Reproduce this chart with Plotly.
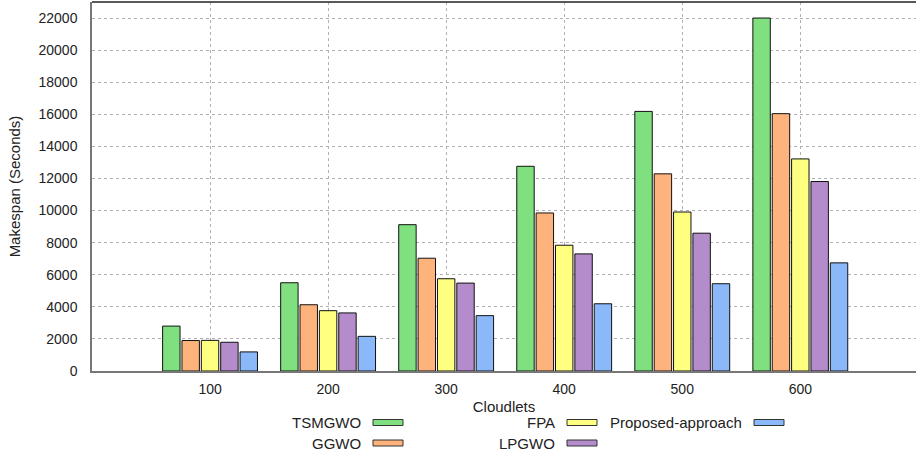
import plotly.graph_objects as go

categories = ["100", "200", "300", "400", "500", "600"]
series_names = ["TSMGWO", "GGWO", "FPA", "LPGWO", "Proposed-approach"]
tsmgwo = [2800, 5500, 9120, 12760, 16180, 22000]
ggwo = [1900, 4130, 7030, 9850, 12290, 16040]
fpa = [1910, 3760, 5750, 7840, 9910, 13220]
lpgwo = [1790, 3620, 5480, 7300, 8590, 11810]
proposed = [1190, 2160, 3450, 4190, 5440, 6740]
y_ticks = list(range(0, 22001, 2000))
y_tick_labels = [str(v) for v in y_ticks]

values = [tsmgwo, ggwo, fpa, lpgwo, proposed]
colors = ["#80E080", "#FFB37C", "#FFFF80", "#B48CCB", "#8AB8F8"]

W, H = 916, 457
L, R, T, B = 92, 0, 2, 86
PW, PH = W - L - R, H - T - B

fig = go.Figure()
for name, vals, col in zip(series_names, values, colors):
    fig.add_trace(go.Bar(
        x=categories, y=vals, name=name,
        marker=dict(color=col, line=dict(color="#111111", width=1)),
        showlegend=False,
    ))

font = dict(family="Liberation Sans, Arial, sans-serif", size=14, color="#222222")
legend_font = dict(family="Liberation Sans, Arial, sans-serif", size=15, color="#222222")

def px_to_paper(px, py):
    return (px - L) / PW, (H - B - py) / PH

# Custom legend: text right-aligned, swatch after the text
legend_items = [
    (0, 363, 422.5), (1, 363, 443), (2, 557, 422.5), (3, 557, 443), (4, 744, 422.5)
]
annotations = []
shapes = []
for idx, tx, ty in legend_items:
    xp, yp = px_to_paper(tx, ty)
    annotations.append(dict(
        x=xp, y=yp, xref="paper", yref="paper", text=series_names[idx],
        showarrow=False, xanchor="right", yanchor="middle", font=legend_font,
    ))
    x0, y0 = px_to_paper(tx + 10, ty - 3)
    x1, y1 = px_to_paper(tx + 40, ty + 3)
    shapes.append(dict(
        type="rect", xref="paper", yref="paper", x0=x0, x1=x1, y0=y0, y1=y1,
        fillcolor=colors[idx], line=dict(color="#333333", width=1),
    ))

# top border line
shapes.append(dict(type="line", xref="paper", yref="paper", x0=0, x1=1, y0=1, y1=1,
                   line=dict(color="#222222", width=1.5)))

fig.update_layout(
    width=W, height=H,
    margin=dict(l=L, r=R, t=T, b=B, pad=0),
    paper_bgcolor="white", plot_bgcolor="white",
    barmode="group", bargap=0.18, bargroupgap=0.1,
    font=font,
    annotations=annotations, shapes=shapes,
    xaxis=dict(
        type="category", range=[-1.0, 5.98],
        showgrid=True, gridcolor="#b0b0b0", griddash="dot", gridwidth=1,
        showline=True, linecolor="#777777", linewidth=1.5,
        ticks="", tickfont=font, ticklabelstandoff=4,
        title=dict(text="Cloudlets", font=legend_font, standoff=6),
    ),
    yaxis=dict(
        range=[0, 23000], tickvals=y_ticks, ticktext=y_tick_labels,
        showgrid=True, gridcolor="#b0b0b0", griddash="dot", gridwidth=1,
        showline=True, linecolor="#777777", linewidth=1.5,
        zeroline=False, ticks="", tickfont=font, ticklabelstandoff=10,
        title=dict(text="Makespan (Seconds)", font=legend_font, standoff=14),
    ),
)

fig.write_html("out.html")
